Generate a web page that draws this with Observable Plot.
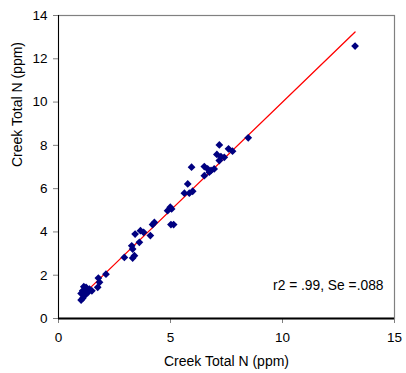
<!DOCTYPE html>
<html>
<head>
<meta charset="utf-8">
<script src="https://cdn.jsdelivr.net/npm/d3@7"></script>
<script src="https://cdn.jsdelivr.net/npm/@observablehq/plot@0.6"></script>
<style>
  html, body { margin: 0; padding: 0; background: #fff; }
  svg { display: block; }
</style>
</head>
<body>
<div id="chart"></div>
<script>
// Measured Creek Total N (x) vs predicted Creek Total N (y), ppm
const xValues = [13.24, 8.47, 7.18, 7.59, 7.77, 7.07, 7.25, 7.40, 7.18, 5.94,
                 6.51, 6.66, 6.81, 6.95, 6.73, 6.51, 5.77, 5.62, 5.84, 5.99,
                 4.99, 4.87, 5.05, 5.02, 5.14, 4.28, 4.20, 4.10, 3.66, 3.42,
                 3.80, 3.61, 3.27, 3.31, 3.39, 3.31, 2.94, 2.12, 1.78, 1.83,
                 1.75, 1.38, 1.23, 1.13, 1.08, 1.01, 1.16, 1.08, 1.01, 1.31,
                 1.49, 1.19];
const yValues = [12.59, 8.35, 8.02, 7.84, 7.73, 7.58, 7.48, 7.45, 7.30, 6.99,
                 7.02, 6.91, 6.84, 6.91, 6.76, 6.60, 6.22, 5.79, 5.79, 5.88,
                 5.14, 4.98, 5.06, 4.34, 4.34, 4.44, 4.34, 3.83, 4.06, 3.90,
                 3.98, 3.52, 3.36, 3.21, 2.90, 2.79, 2.82, 2.05, 1.87, 1.67,
                 1.44, 1.36, 1.44, 1.47, 1.28, 1.16, 1.05, 0.93, 0.85, 1.20,
                 1.28, 1.23];
const fitSlope = 1.0;
const fitIntercept = 0.0;
const xTicks = [0, 5, 10, 15];
const yTicks = [0, 2, 4, 6, 8, 10, 12, 14];
const axisLabel = "Creek Total N (ppm)";
const statsText = "r2 = .99, Se =.088";

const points = xValues.map((x, i) => ({x, y: yValues[i]}));
const [xMin, xMax] = d3.extent(xValues);
const fitLine = [xMin, xMax].map(x => ({x, y: fitIntercept + fitSlope * x}));

const chart = Plot.plot({
  width: 406,
  height: 373,
  marginLeft: 58,
  marginRight: 12,
  marginTop: 15,
  marginBottom: 55,
  style: {fontFamily: "'Liberation Sans', Arial, sans-serif", fontSize: "13.5px", color: "#000", background: "#fff"},
  x: {domain: [0, 15], label: null},
  y: {domain: [0, 14], label: null},
  marks: [
    Plot.frame({stroke: "#808080", strokeWidth: 1.2}),
    Plot.axisX({ticks: xTicks, tickSize: 5, tickPadding: 9, stroke: "#808080", label: null, fontSize: 13.5}),
    Plot.axisY({ticks: yTicks, tickSize: 5, tickPadding: 6, stroke: "#808080", label: null, fontSize: 13.5}),
    Plot.ruleX([0], {stroke: "#000", strokeWidth: 1}),
    Plot.ruleY([0], {stroke: "#000", strokeWidth: 2}),
    Plot.line(fitLine, {x: "x", y: "y", stroke: "#ff0000", strokeWidth: 1.3}),
    Plot.dot(points, {x: "x", y: "y", symbol: "diamond2", r: 3.5, fill: "#000080", stroke: "none"}),
    Plot.text([axisLabel], {frameAnchor: "bottom", dy: 47, text: d => d, fontSize: 14, fill: "#000"}),
    Plot.text([axisLabel], {frameAnchor: "left", dx: -41, rotate: -90, text: d => d, fontSize: 14, fill: "#000"}),
    Plot.text([statsText], {frameAnchor: "bottom-right", dx: -11, dy: -29, textAnchor: "end", text: d => d, fontSize: 13.8, fill: "#000"})
  ]
});
document.getElementById("chart").appendChild(chart);
</script>
</body>
</html>
